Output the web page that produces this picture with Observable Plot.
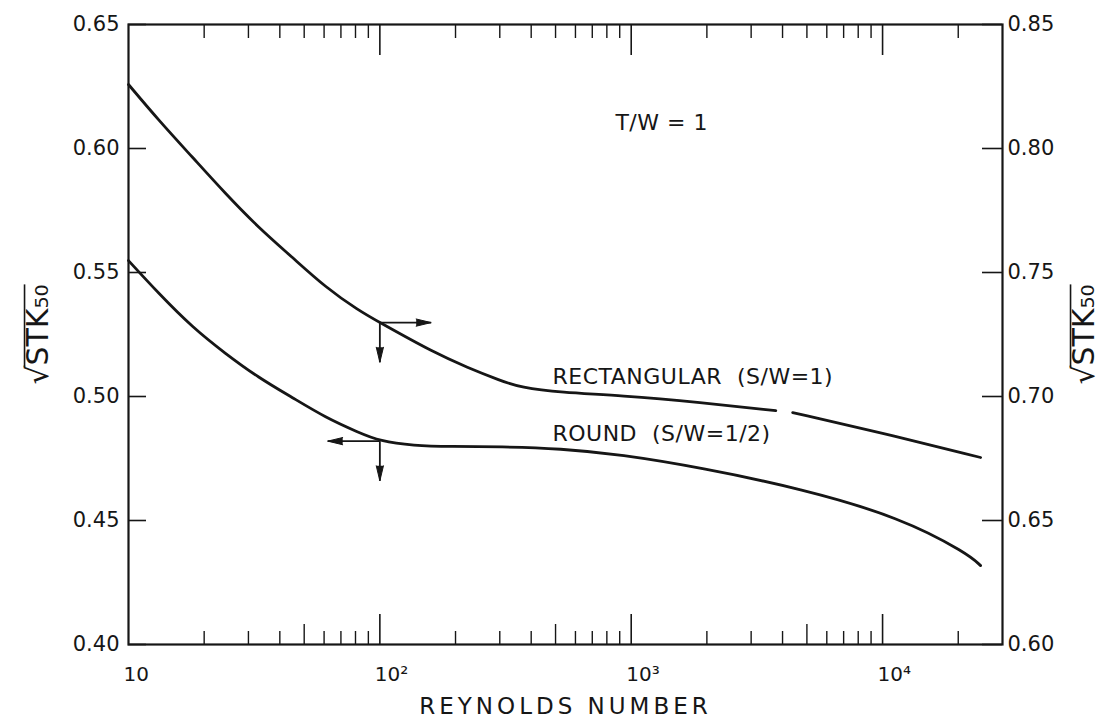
<!DOCTYPE html>
<html>
<head>
<meta charset="utf-8">
<script src="https://cdn.jsdelivr.net/npm/d3@7"></script>
<script src="https://cdn.jsdelivr.net/npm/@observablehq/plot@0.6"></script>
<style>
  body { margin: 0; background: #fff; }
  #chart svg { display: block; }
</style>
</head>
<body>
<div id="chart"></div>
<script>
// Rectangular jet (S/W = 1), read on the right-hand axis
const rectRe  = [10, 13.2, 18.0, 24.3, 32.9, 45.0, 60.8, 82.3, 100, 164, 223, 302, 363, 524, 907, 1890, 3760, 4070, 4390, 9820, 24550];
const rectStk = [0.8258, 0.8113, 0.7964, 0.7818, 0.7681, 0.7560, 0.7440, 0.7347, 0.7298, 0.7177, 0.7117, 0.7064, 0.7036, 0.7016, 0.7004, 0.6976, 0.6943, NaN, 0.6935, 0.6855, 0.6754];

// Round jet (S/W = 1/2), read on the left-hand axis
const roundRe  = [10, 13.2, 18.0, 24.3, 32.9, 45.0, 60.8, 82.3, 100, 136, 191, 302, 524, 907, 1890, 4720, 11800, 21800, 24550];
const roundStk = [0.5548, 0.5415, 0.5278, 0.5173, 0.5076, 0.4995, 0.4915, 0.4855, 0.4820, 0.4802, 0.4798, 0.4798, 0.4790, 0.4766, 0.4713, 0.4629, 0.4512, 0.4367, 0.4318];

// Axes
const leftTicks  = [0.40, 0.45, 0.50, 0.55, 0.60, 0.65];
const rightTicks = [0.60, 0.65, 0.70, 0.75, 0.80, 0.85];
const rightOffset = 0.20;               // right axis = left axis + 0.20
const decadeRe   = [100, 1000, 10000];
const fiveRe     = [50, 500, 5000];
const minorRe    = [20, 30, 40, 60, 70, 80, 90, 200, 300, 400, 600, 700, 800, 900,
                    2000, 3000, 4000, 6000, 7000, 8000, 9000, 20000];
const xLabelRe   = [10, 100, 1000, 10000];
const xLabelText = ["10", "10²", "10³", "10⁴"];

// Arrows at Re = 100 pointing to the axis each curve is read on
const arrowRe = 100;
const rectAt  = rectStk[rectRe.indexOf(arrowRe)] - rightOffset;
const roundAt = roundStk[roundRe.indexOf(arrowRe)];
const arrows = [
  {x1: arrowRe, y1: rectAt,  x2: 160,     y2: rectAt},
  {x1: arrowRe, y1: rectAt,  x2: arrowRe, y2: rectAt - 0.016},
  {x1: arrowRe, y1: roundAt, x2: 62,      y2: roundAt},
  {x1: arrowRe, y1: roundAt, x2: arrowRe, y2: roundAt - 0.016}
].map(a => ({...a, dir: a.x2 > a.x1 ? 90 : a.x2 < a.x1 ? 270 : 180}));

// In-plot annotations
const notes = [
  {re: 865, v: 0.6105, text: "T/W = 1"},
  {re: 486, v: 0.5077, text: "RECTANGULAR  (S/W=1)"},
  {re: 486, v: 0.4847, text: "ROUND  (S/W=1/2)"}
];

const W = 1110, H = 720;
const M = {top: 24, right: 108, bottom: 76, left: 128};
const PW = W - M.left - M.right;   // plot width
const PH = H - M.top - M.bottom;   // plot height
const ink = "#161616";
const font = "'DejaVu Sans', 'Liberation Sans', sans-serif";
const titleSize = 30;

const rectData  = rectRe.map((re, i) => ({re, v: rectStk[i] - rightOffset}));
const roundData = roundRe.map((re, i) => ({re, v: roundStk[i]}));

const chart = Plot.plot({
  width: W,
  height: H,
  marginTop: M.top,
  marginRight: M.right,
  marginBottom: M.bottom,
  marginLeft: M.left,
  style: {fontFamily: font, color: ink, background: "#fff"},
  x: {type: "log", domain: [10, 30000], axis: null},
  y: {domain: [0.40, 0.65], axis: null},
  marks: [
    // tick marks, pointing inward
    Plot.tickX(decadeRe, {x: d => d, insetTop: PH - 30, stroke: ink, strokeWidth: 1.6}),
    Plot.tickX(fiveRe,   {x: d => d, insetTop: PH - 20, stroke: ink, strokeWidth: 1.4}),
    Plot.tickX(minorRe,  {x: d => d, insetTop: PH - 13, stroke: ink, strokeWidth: 1.4}),
    Plot.tickX(decadeRe, {x: d => d, insetBottom: PH - 31, stroke: ink, strokeWidth: 1.6}),
    Plot.tickX(minorRe.concat(fiveRe), {x: d => d, insetBottom: PH - 14, stroke: ink, strokeWidth: 1.4}),
    Plot.tickY(leftTicks,  {y: d => d, insetRight: PW - 18, stroke: ink, strokeWidth: 1.6}),
    Plot.tickY(rightTicks, {y: d => d - rightOffset, insetLeft: PW - 20, stroke: ink, strokeWidth: 1.6}),
    Plot.frame({stroke: ink, strokeWidth: 2.2}),

    // tick labels
    Plot.text(leftTicks, {y: d => d, frameAnchor: "left", dx: -9, textAnchor: "end",
      text: d => d.toFixed(2), fontSize: 21, fill: ink}),
    Plot.text(rightTicks, {y: d => d - rightOffset, frameAnchor: "right", dx: 5, textAnchor: "start",
      text: d => d.toFixed(2), fontSize: 21, fill: ink}),
    Plot.text(xLabelText, {x: xLabelRe, text: xLabelText, frameAnchor: "bottom", dy: 36, dx: -5,
      textAnchor: "start", fontSize: 20, fill: ink}),

    // axis titles
    Plot.text(["REYNOLDS NUMBER"], {frameAnchor: "bottom", dy: 69, textAnchor: "middle",
      fontSize: 23, fill: ink, ariaDescription: "x-title"}),
    Plot.text(["√STK₅₀"], {frameAnchor: "left", dx: -90, textAnchor: "middle", rotate: -90,
      fontSize: titleSize, fill: ink, ariaDescription: "y-title"}),
    Plot.text(["√STK₅₀"], {frameAnchor: "right", dx: 82, textAnchor: "middle", rotate: -90,
      fontSize: titleSize, fill: ink, ariaDescription: "y-title"}),

    // curves
    Plot.line(rectData,  {x: "re", y: "v", curve: "basis", stroke: ink, strokeWidth: 2.8}),
    Plot.line(roundData, {x: "re", y: "v", curve: "basis", stroke: ink, strokeWidth: 2.8}),

    // axis-reading arrows: shaft plus a narrow filled head
    Plot.link(arrows, {x1: "x1", y1: "y1", x2: "x2", y2: "y2", stroke: ink, strokeWidth: 1.8}),
    Plot.vector(arrows, {x: "x2", y: "y2", rotate: "dir", anchor: "end", shape: "spike",
      length: 15, r: 3.6, fill: ink, stroke: ink, strokeWidth: 1}),

    // annotations
    Plot.text(notes, {x: "re", y: "v", text: "text", textAnchor: "start", fontSize: 22,
      fill: ink, ariaDescription: "note"})
  ]
});

document.getElementById("chart").appendChild(chart);

// letter spacing on the lettered labels
chart.querySelectorAll('g[aria-description="x-title"] text').forEach(t => t.style.letterSpacing = "4px");
chart.querySelectorAll('g[aria-description="note"] text').forEach(t => t.style.letterSpacing = "0.5px");

// vinculum of the radical over STK₅₀ (titles are rotated -90°, so the bar is vertical)
const ns = "http://www.w3.org/2000/svg";
const svgBox = chart.getBoundingClientRect();
chart.querySelectorAll('g[aria-description="y-title"] text').forEach(t => {
  const box = t.getBoundingClientRect();
  const rootLen = t.getSubStringLength(0, 1);
  const xv = box.left - svgBox.left + (0.928 - 0.78) * titleSize;
  const bar = document.createElementNS(ns, "line");
  bar.setAttribute("x1", xv);
  bar.setAttribute("x2", xv);
  bar.setAttribute("y1", box.bottom - svgBox.top - rootLen + 1.5);
  bar.setAttribute("y2", box.top - svgBox.top);
  bar.setAttribute("stroke", ink);
  bar.setAttribute("stroke-width", 1.6);
  chart.appendChild(bar);
});
</script>
</body>
</html>
